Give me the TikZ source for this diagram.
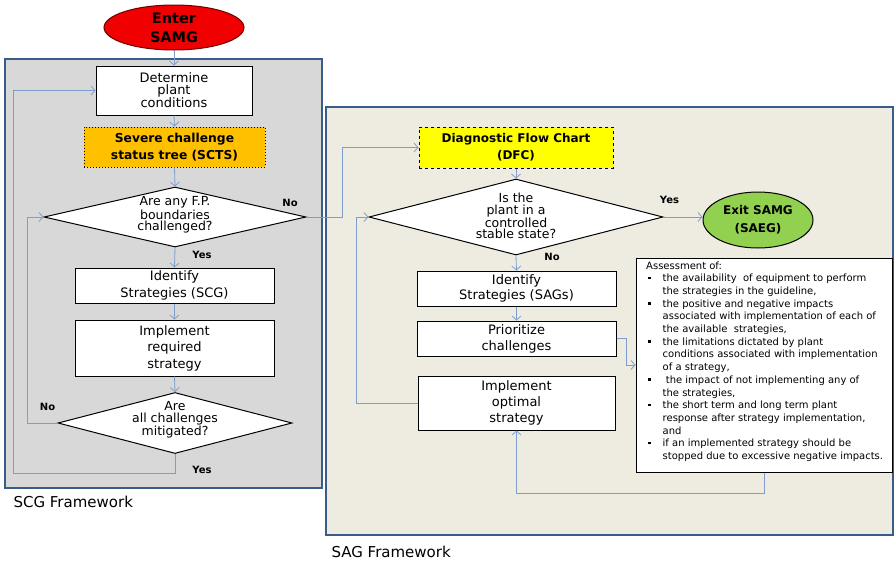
\documentclass[tikz,border=0pt]{standalone}
\usepackage{fontspec}
\setmainfont{DejaVu Sans}
\usetikzlibrary{shapes.geometric,arrows.meta}

\definecolor{frameblue}{RGB}{56,93,138}
\definecolor{linkblue}{RGB}{125,158,204}
\definecolor{scggray}{RGB}{216,216,216}
\definecolor{sagbeige}{RGB}{238,236,225}
\definecolor{entred}{RGB}{240,0,0}
\definecolor{entedge}{RGB}{110,0,0}
\definecolor{sctsorange}{RGB}{255,192,0}
\definecolor{dfcyellow}{RGB}{255,255,0}
\definecolor{exitgreen}{RGB}{146,208,80}

\newcommand{\fsz}[2]{\fontsize{#1}{#2}\selectfont}
\newcommand{\blt}{\makebox[16.5pt][l]{\hspace{2pt}\raisebox{2.6pt}{\rule{2.5pt}{2.5pt}}}}

\begin{document}
\begin{tikzpicture}[x=1pt,y=-1pt,
  frame/.style={draw=frameblue,line width=2pt},
  box/.style={draw=black,fill=white,line width=1pt,inner sep=0pt,align=center},
  dia/.style={diamond,draw=black,fill=white,line width=1pt,inner sep=0pt},
  dtext/.style={align=center,font=\fsz{12.5}{11.5}},
  link/.style={draw=linkblue,line width=0.8pt},
  arr/.style={link,-{Straight Barb[length=4pt,width=9pt]}},
  yn/.style={font=\bfseries\fsz{10}{11}},
  caption/.style={anchor=west,font=\fsz{15}{18}}]

\useasboundingbox (0,0) rectangle (895,563);

% framework panels
\draw[frame,fill=scggray] (5,59) rectangle (322,488);
\draw[frame,fill=sagbeige] (326,107) rectangle (893,535);
\node[caption] (scglbl) at (10,502) {SCG Framework};
\node[caption] (saglbl) at (328,552) {SAG Framework};

% SCG flow
\node[ellipse,draw=entedge,line width=1pt,fill=entred,minimum width=140pt,minimum height=45pt,inner sep=0pt,align=center,font=\bfseries\fsz{14.5}{19}] (enter) at (174,27.5) {Enter\\SAMG};
\node[box,minimum width=156pt,minimum height=49pt,font=\fsz{13}{11.5}] (det) at (174,90.5) {Determine\\plant\\conditions};
\node[box,fill=sctsorange,dotted,minimum width=181pt,minimum height=40pt,font=\bfseries\fsz{12.3}{17}] (scts) at (174.5,147) {Severe challenge\\status tree (SCTS)};
\node[dia,minimum width=262pt,minimum height=60pt] (d1) at (175,217) {};
\node[dtext] (d1t) at (175,215) {Are any F.P.\\boundaries\\challenged?};
\node[box,minimum width=199pt,minimum height=35pt,font=\fsz{13}{17}] (idscg) at (174.5,285.5) {Identify\\Strategies (SCG)};
\node[box,minimum width=199pt,minimum height=56pt,font=\fsz{13}{16.5}] (impreq) at (174.5,348) {Implement\\required\\strategy};
\node[dia,minimum width=234pt,minimum height=61pt] (d2) at (175,423) {};
\node[dtext] (d2t) at (175,420) {Are\\all challenges\\mitigated?};

% SAG flow
\node[box,fill=dfcyellow,dashed,minimum width=194pt,minimum height=41pt,font=\bfseries\fsz{12}{17}] (dfc) at (516,147.5) {Diagnostic Flow Chart\\(DFC)};
\node[dia,minimum width=294pt,minimum height=76pt] (d3) at (516,217) {};
\node[dtext] (d3t) at (516,216) {Is the\\plant in a\\controlled\\stable state?};
\node[ellipse,draw=black,line width=1pt,fill=exitgreen,minimum width=110pt,minimum height=56pt,inner sep=0pt,align=center,font=\bfseries\fsz{12}{18}] (exit) at (758,220) {Exit SAMG\\(SAEG)};
\node[box,minimum width=199pt,minimum height=35pt,font=\fsz{13}{15}] (idsag) at (516.5,288.5) {Identify\\Strategies (SAGs)};
\node[box,minimum width=199pt,minimum height=35pt,font=\fsz{13}{16}] (prio) at (516.5,338.5) {Prioritize\\challenges};
\node[box,minimum width=197pt,minimum height=54pt,font=\fsz{13}{16}] (impopt) at (516.5,403) {Implement\\optimal\\strategy};

% assessment list
\node[box,minimum width=256pt,minimum height=214pt] (assess) at (764,365) {};
\node[anchor=north west,inner sep=0pt,font=\fsz{10}{12.7}] (assesst) at (646,260) {%
\begin{tabular}{@{}l@{}l@{}}
\multicolumn{2}{@{}l@{}}{Assessment of:}\\
\blt & the availability\ \ of equipment to perform\\
 & the strategies in the guideline,\\
\blt & the positive and negative impacts\\
 & associated with implementation of each of\\
 & the available\ \ strategies,\\
\blt & the limitations dictated by plant\\
 & conditions associated with implementation\\
 & of a strategy,\\
\blt & \ the impact of not implementing any of\\
 & the strategies,\\
\blt & the short term and long term plant\\
 & response after strategy implementation,\\
 & and\\
\blt & if an implemented strategy should be\\
 & stopped due to excessive negative impacts.
\end{tabular}};

% loop-back corner points
\coordinate (lpA) at (13,473);
\coordinate (lpB) at (27,423);
\coordinate (lpC) at (342,217);
\coordinate (lpD) at (356,403);
\coordinate (lpE) at (626,365);

% connectors
\draw[arr] (enter.south) -- (det.north);
\draw[arr] (det.south) -- (scts.north);
\draw[arr] (scts.south) -- (d1.north);
\draw[arr] (d1.south) -- (idscg.north);
\draw[arr] (idscg.south) -- (impreq.north);
\draw[arr] (impreq.south) -- (d2.north);
\draw[arr] (d2.south) |- (lpA) |- (det.west);
\draw[arr] (d2.west) -- (lpB) |- (d1.west);
\draw[arr] (d1.east) -- (lpC) |- (dfc.west);
\draw[arr] (dfc.south) -- (d3.north);
\draw[arr] (d3.east) -- (d3.east -| exit.west);
\draw[arr] (d3.south) -- (idsag.north);
\draw[arr] (idsag.south) -- (prio.north);
\draw[arr] (prio.east) -| (lpE) -- (lpE -| assess.west);
\draw[arr] (assess.south) -- ++(0,21) -| (impopt.south);
\draw[arr] (impopt.west) -- (lpD) |- (d3.west);

% branch labels
\node[yn] (y1) at (202,255) {Yes};
\node[yn] (n1) at (290,203) {No};
\node[yn] (n2) at (47.5,407) {No};
\node[yn] (y2) at (202,470) {Yes};
\node[yn] (y3) at (669.5,200) {Yes};
\node[yn] (n3) at (552,257) {No};
\end{tikzpicture}
\end{document}
